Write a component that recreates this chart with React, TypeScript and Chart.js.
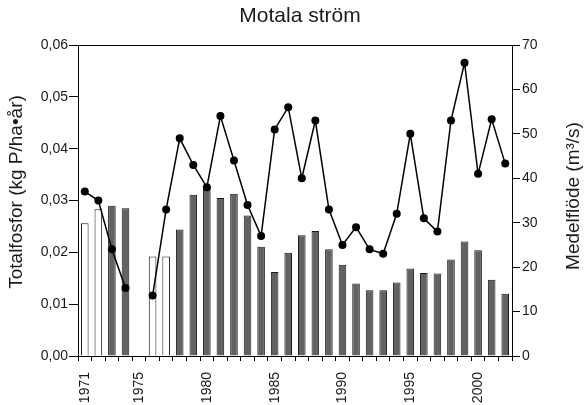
import React, { useEffect, useRef } from "react";
import { Chart, registerables } from "chart.js";

Chart.register(...registerables);

// Years on the x axis
const years: string[] = [
  "1971", "1972", "1973", "1974", "1975", "1976", "1977", "1978", "1979", "1980",
  "1981", "1982", "1983", "1984", "1985", "1986", "1987", "1988", "1989", "1990",
  "1991", "1992", "1993", "1994", "1995", "1996", "1997", "1998", "1999", "2000",
  "2001", "2002",
];

// Years whose label is printed under the axis
const labelledYears: string[] = ["1971", "1975", "1980", "1985", "1990", "1995", "2000"];

// Total phosphorus, kg P/ha·år (null = no value)
const totalPhosphorus: (number | null)[] = [
  0.0256, 0.0283, 0.029, 0.0285, null, 0.0192, 0.0192, 0.0244, 0.0311, 0.0327,
  0.0305, 0.0313, 0.0271, 0.0211, 0.0162, 0.0199, 0.0233, 0.0241, 0.0206, 0.0176,
  0.014, 0.0127, 0.0127, 0.0142, 0.0169, 0.016, 0.0159, 0.0186, 0.0221, 0.0204,
  0.0147, 0.012,
];

// Whether the phosphorus value is an estimate (drawn as an open bar)
const estimated: boolean[] = [
  true, true, false, false, false, true, true, false, false, false,
  false, false, false, false, false, false, false, false, false, false,
  false, false, false, false, false, false, false, false, false, false,
  false, false,
];

// Mean discharge, m³/s
const meanFlow: (number | null)[] = [
  37, 35, 24, 15.3, null, 13.6, 33, 49, 43, 38,
  54, 44, 34, 27, 51, 56, 40, 53, 33, 25,
  29, 24, 23, 32, 50, 31, 28, 53, 66, 41,
  53.3, 43.3,
];

const leftTicks: number[] = [0, 0.01, 0.02, 0.03, 0.04, 0.05, 0.06];
const rightTicks: number[] = [0, 10, 20, 30, 40, 50, 60, 70];

const FONT = "'Liberation Sans', Arial, sans-serif";
const TEXT = "#1a1a1a";

const W = 585;
const H = 405;
const PLOT = { left: 78, right: 512, top: 45, bottom: 356 };

const textPlugin = {
  id: "frameAndTitles",
  afterDraw(chart: Chart) {
    const { ctx, chartArea } = chart;
    ctx.save();
    // top frame line
    ctx.strokeStyle = "#000";
    ctx.lineWidth = 1;
    ctx.beginPath();
    ctx.moveTo(chartArea.left, chartArea.top + 0.5);
    ctx.lineTo(chartArea.right, chartArea.top + 0.5);
    ctx.stroke();

    ctx.fillStyle = TEXT;
    ctx.textAlign = "center";
    ctx.textBaseline = "middle";

    ctx.font = `21px ${FONT}`;
    ctx.fillText("Motala ström", 300, 16);

    ctx.font = `19px ${FONT}`;
    ctx.save();
    ctx.translate(17, 192);
    ctx.rotate(-Math.PI / 2);
    ctx.fillText("Totalfosfor (kg P/ha•år)", 0, 0);
    ctx.restore();

    ctx.save();
    ctx.translate(574, 196);
    ctx.rotate(-Math.PI / 2);
    ctx.fillText("Medelflöde (m³/s)", 0, 0);
    ctx.restore();
    ctx.restore();
  },
};

export default function App() {
  const ref = useRef<HTMLCanvasElement | null>(null);

  useEffect(() => {
    document.body.style.margin = "0";
    const canvas = ref.current;
    if (!canvas) return;

    const chart = new Chart(canvas, {
      type: "bar",
      data: {
        labels: years,
        datasets: [
          {
            type: "line",
            label: "Medelflöde",
            data: meanFlow,
            yAxisID: "y1",
            borderColor: "#000",
            borderWidth: 1.5,
            backgroundColor: "#000",
            pointRadius: 4,
            pointBorderWidth: 0,
            pointBackgroundColor: "#000",
            spanGaps: false,
            tension: 0,
            order: 0,
          },
          {
            type: "bar",
            label: "Totalfosfor",
            data: totalPhosphorus,
            yAxisID: "y",
            backgroundColor: estimated.map((e) => (e ? "#ffffff" : "#626262")),
            borderColor: "#1a1a1a",
            borderWidth: 1,
            categoryPercentage: 1,
            barPercentage: 0.56,
            order: 1,
          },
        ],
      },
      options: {
        responsive: false,
        animation: false,
        layout: { padding: { left: 0, right: 0, top: PLOT.top, bottom: 0 } },
        plugins: {
          legend: { display: false },
          title: { display: false },
          tooltip: { enabled: false },
        },
        scales: {
          x: {
            type: "category",
            offset: true,
            grid: {
              offset: true,
              drawOnChartArea: false,
              drawTicks: true,
              tickLength: 5,
              color: "#000",
            },
            border: { display: true, color: "#000", width: 1 },
            ticks: {
              autoSkip: false,
              minRotation: 90,
              maxRotation: 90,
              padding: 11,
              color: TEXT,
              font: { family: FONT, size: 14 },
              callback: (_v: any, i: number) =>
                labelledYears.includes(years[i]) ? years[i] : "",
            },
            afterFit: (s: any) => {
              s.height = H - PLOT.bottom;
            },
          },
          y: {
            position: "left",
            min: 0,
            max: 0.06,
            afterBuildTicks: (s: any) => {
              s.ticks = leftTicks.map((v) => ({ value: v }));
            },
            grid: {
              drawOnChartArea: false,
              drawTicks: true,
              tickLength: 9,
              color: "#000",
            },
            border: { display: true, color: "#000", width: 1 },
            ticks: {
              padding: 1,
              color: TEXT,
              font: { family: FONT, size: 14 },
              callback: (v: any) => Number(v).toFixed(2).replace(".", ","),
            },
            afterFit: (s: any) => {
              s.width = PLOT.left;
            },
          },
          y1: {
            position: "right",
            min: 0,
            max: 70,
            afterBuildTicks: (s: any) => {
              s.ticks = rightTicks.map((v) => ({ value: v }));
            },
            grid: {
              drawOnChartArea: false,
              drawTicks: true,
              tickLength: 8,
              color: "#000",
            },
            border: { display: true, color: "#000", width: 1 },
            ticks: {
              padding: 2,
              color: TEXT,
              font: { family: FONT, size: 14 },
            },
            afterFit: (s: any) => {
              s.width = W - PLOT.right;
            },
          },
        },
      },
      plugins: [textPlugin],
    });

    return () => chart.destroy();
  }, []);

  return (
    <div style={{ width: W, height: H, background: "#fff" }}>
      <canvas ref={ref} width={W} height={H} style={{ display: "block" }} />
    </div>
  );
}
